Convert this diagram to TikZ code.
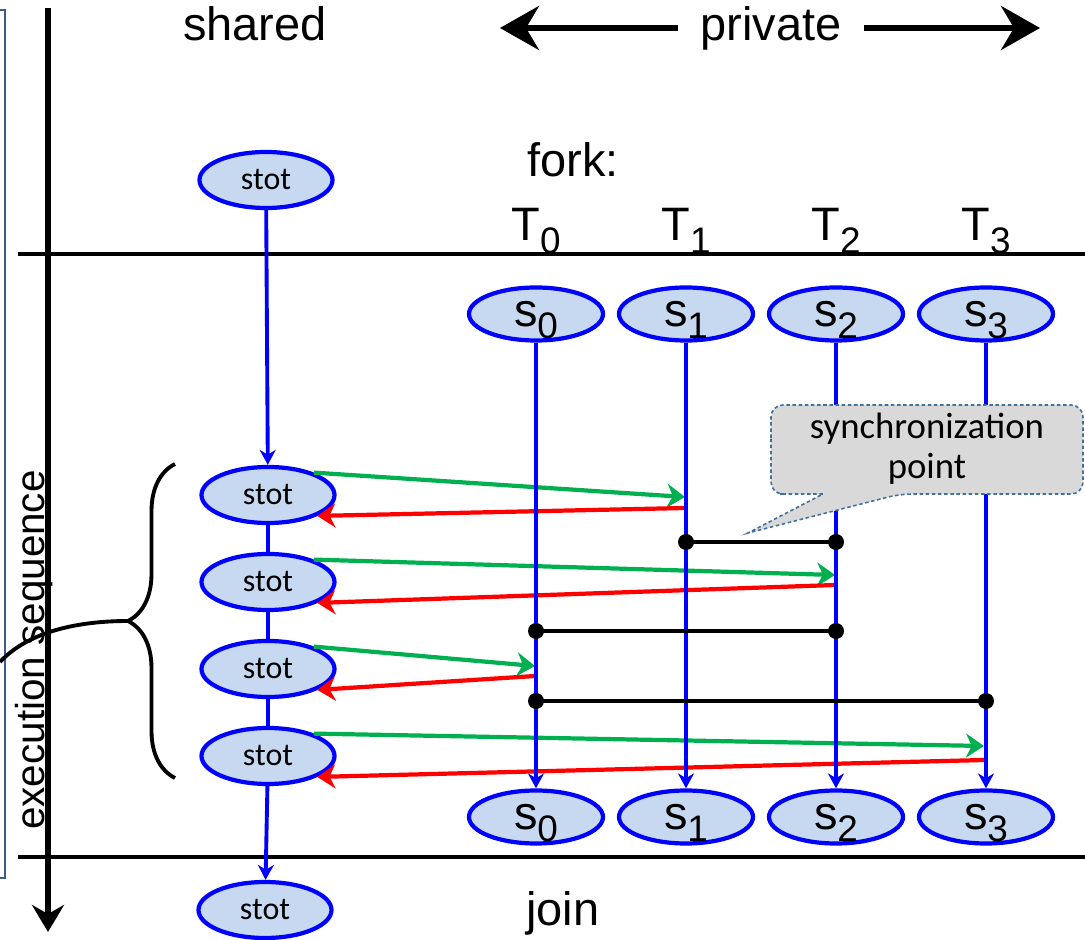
\documentclass[tikz,border=0pt]{standalone}
\usepackage{fontspec}
\setmainfont{Liberation Sans}
\newfontfamily\calibri{Carlito}
\usetikzlibrary{arrows.meta,shapes.geometric,decorations.pathreplacing}

\definecolor{ellfill}{RGB}{198,217,240}
\definecolor{pgreen}{RGB}{0,176,80}
\definecolor{callgray}{RGB}{217,217,217}
\definecolor{callline}{RGB}{65,113,156}
\definecolor{frameblue}{RGB}{61,90,140}

\newcommand\lsub[1]{\raisebox{-0.27em}{\fontsize{21}{21}\selectfont #1}}

\tikzset{
  lbl/.style={inner sep=0pt, font=\fontsize{26.7}{32}\selectfont},
  ell/.style={ellipse, draw=blue, fill=ellfill, line width=2.4pt, inner sep=0pt},
  stot/.style={ell, minimum width=26.6mm, minimum height=11.2mm,
    font=\calibri\fontsize{18.2}{20}\selectfont},
  priv/.style={ell, minimum width=26.8mm, minimum height=10.6mm,
    text height=13.9pt, text depth=0pt, font=\fontsize{26.7}{32}\selectfont},
  flow/.style={blue, line width=2.2pt},
  flowarr/.style={flow, -{Stealth[length=3mm,width=3.2mm]}},
  togreen/.style={pgreen, line width=2.4pt, -{Stealth[length=3.6mm,width=4.8mm]}},
  tored/.style={red, line width=2.4pt, -{Stealth[length=3.6mm,width=4.8mm]}},
  syncline/.style={line width=2.2pt},
  sep/.style={line width=2.4pt},
  wide/.style={line width=3.4pt, -{Stealth[length=7.8mm,width=8.8mm,inset=2.6mm]}},
  callout/.style={fill=callgray, draw=callline, line width=0.9pt,
    dash pattern=on 2pt off 1.5pt},
  calltext/.style={align=center, inner sep=0pt,
    font=\calibri\fontsize{20.9}{23}\selectfont}
}

\begin{document}
\begin{tikzpicture}[x=0.2mm,y=-0.2mm]
\useasboundingbox (0,0) rectangle (1085,940);

% frame edge and separators
\draw[frameblue,line width=1.6pt] (0,10) -- (5,10) -- (5,878) -- (0,878);
\draw[sep] (18,254) -- (1085,254);
\draw[sep] (18,857) -- (1085,857);

% time axis
\coordinate (ax0) at (48,8);
\coordinate (ax1) at (48,932);
\draw[line width=3.4pt,-{Stealth[length=5.4mm,width=6.4mm,inset=1.8mm]}] (ax0) -- (ax1);

% brace over the loop
\draw[line width=2.2pt,decorate,decoration={brace,amplitude=9.4mm}] (175,778) -- (175,464);
\coordinate (btip) at (128,621);
\draw[line width=2.2pt] (btip) .. controls (70,621) and (25,635) .. (0,662);
\node[lbl,rotate=90,anchor=base,font=\fontsize{23}{26}\selectfont] (seq) at (44,650) {execution sequence};

% headings
\node[lbl,anchor=base] (shared) at (255,41) {shared};
\node[lbl,anchor=base,inner xsep=4.5mm] (private) at (771,41) {private};
\coordinate (privl) at (500,28);
\coordinate (privr) at (1040,28);
\draw[wide] (privl -| private.west) -- (privl);
\draw[wide] (privr -| private.east) -- (privr);
\node[lbl,anchor=base west] (fork) at (527,177) {fork:};
\node[lbl,anchor=base] (join) at (563,925) {join};

% shared column
\node[stot] (q0) at (266,180) {stot};
\node[stot] (q1) at (268,495) {stot};
\node[stot] (q2) at (268,582) {stot};
\node[stot] (q3) at (268,669) {stot};
\node[stot] (q4) at (268,756) {stot};
\node[stot] (q5) at (265,910) {stot};
\draw[flowarr] (q0) -- (q1);
\draw[flow] (q1) -- (q2);
\draw[flow] (q2) -- (q3);
\draw[flow] (q3) -- (q4);
\draw[flowarr] (q4) -- (q5);

% updates sent and read back
\foreach \k/\x/\yg/\yr in {1/685/497/508, 2/835/575/585, 3/535/666/676, 4/984/746/760}{
  \coordinate (g\k) at (\x,\yg);
  \coordinate (r\k) at (\x,\yr);
  \draw[togreen] (q\k.26) -- (g\k);
  \draw[tored] (r\k) -- (q\k.-23);
}

% threads
\foreach \i/\x in {0/536,1/686,2/836,3/986}{
  \node[lbl,anchor=base] (T\i) at (\x,241) {T\lsub{\i}};
  \node[priv] (s\i) at (\x,314) {s\lsub{\i}};
  \node[priv] (e\i) at (\x,817) {s\lsub{\i}};
  \draw[flowarr] (s\i) -- (e\i);
}

% synchronization points
\coordinate (a1) at (686,542); \coordinate (a2) at (836,542);
\coordinate (b1) at (536,631); \coordinate (b2) at (836,631);
\coordinate (c1) at (536,701); \coordinate (c2) at (986,701);
\draw[syncline] (a1) -- (a2);
\draw[syncline] (b1) -- (b2);
\draw[syncline] (c1) -- (c2);
\foreach \p in {a1,a2,b1,b2,c1,c2}
  \fill (\p) circle (8);

% callout
\filldraw[callout] (771,450) [rounded corners=2.4mm] -- (771,405) -- (1083,405) -- (1083,494) -- (900,494)
  [sharp corners] -- (748,533) -- (823,494) -- (780,494) [rounded corners=2.4mm] -- (771,494) -- cycle;
\node[calltext] (sync) at (927,449) {synchronization\\point};
\end{tikzpicture}
\end{document}
